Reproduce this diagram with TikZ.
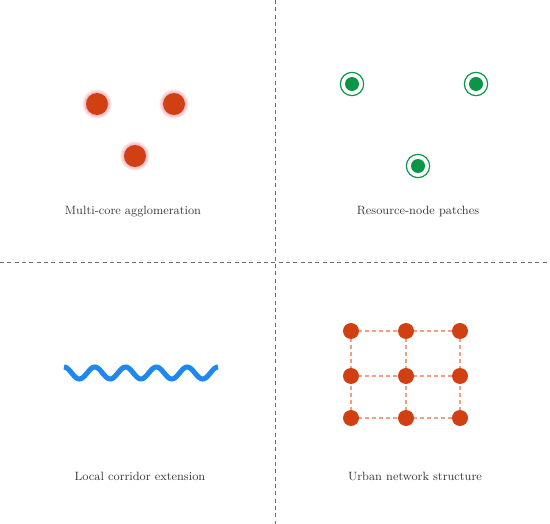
\documentclass[tikz,border=0pt]{standalone}
\usepackage{tikz}
\usetikzlibrary{calc}
\definecolor{coreRed}{RGB}{208,64,18}
\definecolor{haloPink}{RGB}{225,80,100}
\definecolor{patchGreen}{RGB}{10,150,70}
\definecolor{flowBlue}{RGB}{30,136,240}
\definecolor{linkOrange}{RGB}{242,160,130}
\definecolor{divGray}{RGB}{110,110,110}
\definecolor{capGray}{RGB}{55,55,55}
\tikzset{
  divider/.style={draw=divGray, line width=0.6pt, dash pattern=on 3pt off 2.5pt},
  core/.style={circle, fill=coreRed, minimum size=16.5pt, inner sep=0pt},
  halo/.style={circle, fill=haloPink, fill opacity=0.12, minimum size=#1, inner sep=0pt},
  patch/.style={circle, fill=patchGreen, minimum size=10.5pt, inner sep=0pt},
  ring/.style={circle, draw=patchGreen, line width=0.9pt, minimum size=17.5pt, inner sep=0pt},
  corridor/.style={draw=flowBlue, line width=3.8pt},
  hub/.style={circle, fill=coreRed, minimum size=12pt, inner sep=0pt},
  link/.style={draw=linkOrange, line width=0.8pt, dash pattern=on 3pt off 2.2pt},
  caption/.style={text=capGray, font=\small}
}
\begin{document}
\begin{tikzpicture}[x=0.75pt, y=-0.75pt]
  \useasboundingbox (0,0) rectangle (550,524);
  % quadrant dividers
  \coordinate (vtop) at (275,0);
  \coordinate (vbot) at (275,524);
  \coordinate (hleft) at (0,262);
  \coordinate (hright) at (550,262);
  \draw[divider] (vtop) -- (vbot);
  \draw[divider] (hleft) -- (hright);
  % multi-core agglomeration
  \foreach \n/\p in {c1/{(97,104)}, c2/{(174,104)}, c3/{(135,156)}}{
    \foreach \s in {22pt,20.5pt,19pt,17.5pt}
      \node[halo=\s] at \p {};
    \node[core] (\n) at \p {};
  }
  \node[caption] (capA) at (133,212) {Multi-core agglomeration};
  % resource-node patches
  \foreach \n/\p in {r1/{(352,84)}, r2/{(476,84)}, r3/{(418,166)}}{
    \node[ring] at \p {};
    \node[patch] (\n) at \p {};
  }
  \node[caption] (capB) at (418,212) {Resource-node patches};
  % local corridor
  \draw[corridor] plot[domain=0:154, samples=120] ({64+\x}, {373-6*cos(\x/30.8*360)});
  \node[caption] (capC) at (140,476) {Local corridor extension};
  % urban network
  \foreach \i/\x in {1/351, 2/406, 3/460}
    \foreach \j/\y in {1/331, 2/376, 3/418}
      \coordinate (p\i\j) at (\x,\y);
  \foreach \i in {1,2,3}{
    \draw[link] (p1\i) -- (p2\i) -- (p3\i);
    \draw[link] (p\i1) -- (p\i2) -- (p\i3);
  }
  \foreach \i in {1,2,3}
    \foreach \j in {1,2,3}
      \node[hub] (g\i\j) at (p\i\j) {};
  \node[caption] (capD) at (415,476) {Urban network structure};
\end{tikzpicture}
\end{document}
